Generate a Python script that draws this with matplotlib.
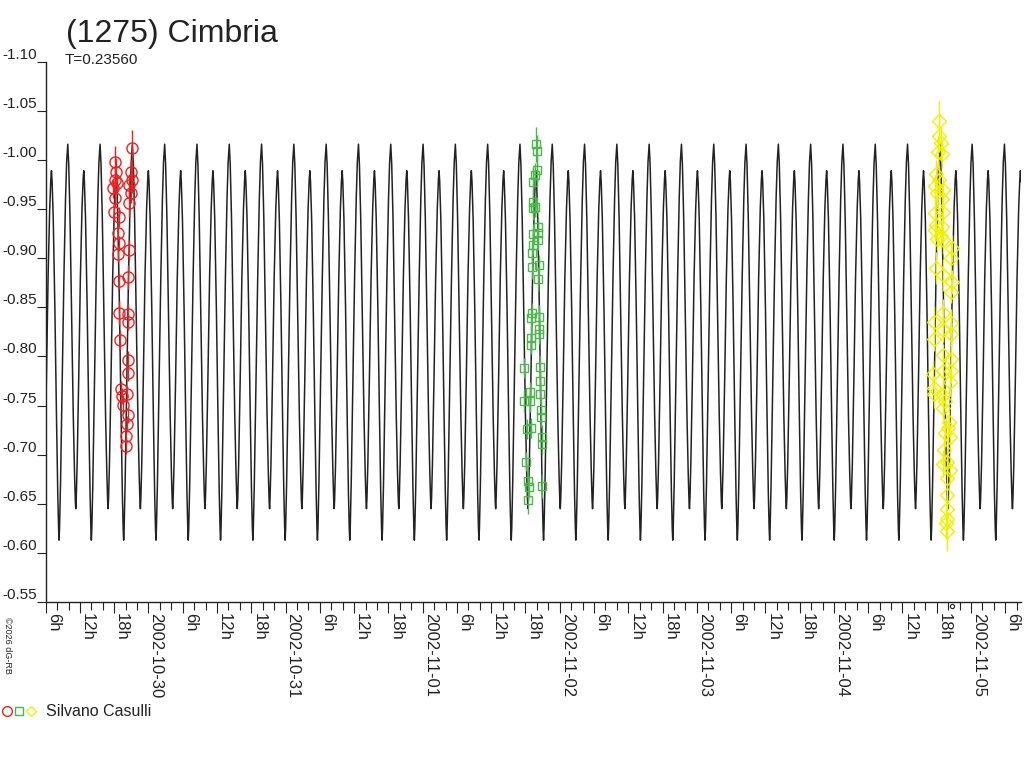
import numpy as np
import pandas as pd
import matplotlib
matplotlib.use("Agg")
import matplotlib.pyplot as plt
import matplotlib.dates as mdates
from matplotlib.ticker import FixedLocator, FuncFormatter
from matplotlib.lines import Line2D
from matplotlib.legend_handler import HandlerTuple

plt.rcParams['font.family'] = ['Liberation Sans', 'DejaVu Sans']

OBJECT_NAME = "(1275) Cimbria"
PERIOD = 0.23560          # days
OBSERVER = "Silvano Casulli"
CREDIT = "\u00a92026 dG-RB"

X_START = "2002-10-29 06:00"
X_END = "2002-11-05 08:44"
Y_TICKS = [-1.10, -1.05, -1.00, -0.95, -0.90, -0.85, -0.80, -0.75,
           -0.70, -0.65, -0.60, -0.55]

# model lightcurve over one rotation (phase 0 = brighter maximum)
MODEL_EPOCH = "2002-10-30 02:50"
MODEL_PHASE = [0.000, 0.030, 0.070, 0.120, 0.170, 0.210, 0.235, 0.248,
               0.262, 0.290, 0.340, 0.390, 0.440, 0.475, 0.495, 0.515,
               0.550, 0.600, 0.650, 0.690, 0.715, 0.730, 0.745, 0.775,
               0.830, 0.880, 0.930, 0.965]
MODEL_MAG = [-1.016, -0.995, -0.940, -0.840, -0.740, -0.680, -0.652, -0.645,
             -0.655, -0.690, -0.780, -0.880, -0.950, -0.980, -0.989, -0.978,
             -0.940, -0.850, -0.740, -0.660, -0.625, -0.613, -0.625, -0.670,
             -0.780, -0.880, -0.960, -0.998]

# session 1 (red circles)
S1_DATE = "2002-10-29"
S1_HOURS = [17.83, 18.01, 18.13, 18.13, 18.13, 18.25, 18.43, 18.71, 18.71,
            18.83, 18.83, 18.83, 18.83, 19.01, 19.13, 19.30, 19.48, 20.06,
            20.06, 20.18, 20.28, 20.35, 20.35, 20.35, 20.46, 20.46, 20.46,
            20.63, 20.63, 20.63, 20.88, 20.93, 21.05, 21.05]
S1_MAG = [-0.971, -0.947, -0.998, -0.980, -0.961, -0.988, -0.976, -0.926,
          -0.904, -0.942, -0.915, -0.877, -0.844, -0.817, -0.767, -0.760,
          -0.751, -0.719, -0.709, -0.762, -0.731, -0.796, -0.783, -0.740,
          -0.881, -0.843, -0.835, -0.974, -0.956, -0.908, -0.966, -0.988,
          -1.012, -0.980]
S1_ERR = [0.010, 0.008, 0.016, 0.012, 0.010, 0.014, 0.010, 0.008, 0.008,
          0.010, 0.008, 0.008, 0.012, 0.010, 0.008, 0.008, 0.010, 0.008,
          0.008, 0.008, 0.008, 0.010, 0.008, 0.008, 0.012, 0.010, 0.008,
          0.012, 0.014, 0.010, 0.010, 0.012, 0.018, 0.014]

# session 2 (green squares)
S2_DATE = "2002-11-01"
S2_HOURS = [17.73, 17.78, 18.03, 18.20, 18.37, 18.37, 18.60, 18.78, 18.78,
            18.90, 18.90, 18.90, 18.95, 19.08, 19.08, 19.08, 19.25, 19.25,
            19.25, 19.35, 19.35, 19.65, 19.65, 19.83, 19.95, 20.06, 20.13,
            20.13, 20.23, 20.23, 20.35, 20.35, 20.35, 20.41, 20.53, 20.53,
            20.53, 20.70, 20.70, 20.83, 20.83, 20.93]
S2_MAG = [-0.788, -0.755, -0.693, -0.726, -0.673, -0.654, -0.667, -0.764,
          -0.755, -0.839, -0.819, -0.727, -0.812, -0.905, -0.891, -0.844,
          -0.951, -0.925, -0.913, -0.978, -0.957, -0.985, -0.952, -1.016,
          -1.009, -0.990, -0.932, -0.926, -0.918, -0.879, -0.893, -0.840,
          -0.828, -0.823, -0.789, -0.775, -0.762, -0.745, -0.738, -0.718,
          -0.711, -0.668]
S2_ERR = [0.010, 0.012, 0.010, 0.010, 0.012, 0.014, 0.010, 0.010, 0.012,
          0.010, 0.012, 0.010, 0.010, 0.010, 0.012, 0.010, 0.012, 0.010,
          0.010, 0.014, 0.012, 0.012, 0.010, 0.018, 0.016, 0.014, 0.010,
          0.012, 0.010, 0.012, 0.010, 0.012, 0.010, 0.010, 0.012, 0.010,
          0.010, 0.012, 0.010, 0.012, 0.010, 0.012]

# session 3 (yellow diamonds)
S3_DATE = "2002-11-04"
S3_HOURS = [17.38, 17.50, 17.55, 17.55, 17.55, 17.67, 17.67, 17.67, 17.85,
            17.85, 17.85, 17.97, 18.07, 18.14, 18.43, 18.43, 18.43, 18.67,
            18.67, 18.85, 18.85, 18.85, 19.02, 19.02, 19.02, 19.02, 19.02,
            19.02, 19.13, 19.13, 19.13, 19.13, 19.13, 19.30, 19.42, 19.42,
            19.60, 19.72, 19.72, 19.72, 19.72, 19.83, 19.83, 20.00, 20.18,
            20.30, 20.30, 20.30, 20.42, 20.42, 20.42, 20.42, 20.42, 20.42,
            20.60, 20.60]
S3_MAG = [-0.782, -0.768, -0.835, -0.818, -0.762, -0.973, -0.946, -0.929,
          -0.986, -0.934, -0.890, -0.920, -0.966, -1.008, -1.040, -1.024,
          -0.980, -1.017, -0.923, -1.006, -0.960, -0.932, -0.969, -0.883,
          -0.844, -0.801, -0.785, -0.691, -0.947, -0.918, -0.827, -0.761,
          -0.747, -0.705, -0.755, -0.722, -0.630, -0.693, -0.659, -0.645,
          -0.622, -0.676, -0.635, -0.727, -0.733, -0.774, -0.718, -0.684,
          -0.900, -0.866, -0.834, -0.823, -0.797, -0.785, -0.910, -0.876]
S3_ERR = [0.014, 0.012, 0.016, 0.012, 0.014, 0.012, 0.014, 0.012, 0.014,
          0.012, 0.016, 0.012, 0.014, 0.016, 0.020, 0.016, 0.014, 0.016,
          0.012, 0.014, 0.012, 0.014, 0.012, 0.016, 0.014, 0.012, 0.016,
          0.014, 0.012, 0.014, 0.012, 0.014, 0.012, 0.016, 0.012, 0.014,
          0.016, 0.014, 0.012, 0.014, 0.020, 0.012, 0.016, 0.014, 0.012,
          0.014, 0.012, 0.014, 0.016, 0.012, 0.014, 0.012, 0.016, 0.012,
          0.014, 0.012]

SESSION_MARK = "2002-11-04 20:36"

INK = "#222222"
RED = "#ee2020"
GREEN = "#4cb84c"
YELLOW = "#f0f000"


def to_num(date, hours):
    t = pd.Timestamp(date) + pd.to_timedelta(np.asarray(hours), unit="h")
    return mdates.date2num(t.to_pydatetime())


def tick_label(x, pos=None):
    d = mdates.num2date(x)
    if d.hour == 0:
        return d.strftime("%Y-%m-%d")
    return f"{d.hour}h"


fig = plt.figure(figsize=(10.24, 7.68), dpi=100)
ax = fig.add_axes([0.0446, 0.2161, 0.9524, 0.7036])

# model curve, repeated every rotation
cycles = np.arange(-5, 32)
ph = (cycles[:, None] + np.array(MODEL_PHASE)[None, :]).ravel()
model_t = pd.Timestamp(MODEL_EPOCH) + pd.to_timedelta(ph * PERIOD, unit="D")
model_x = mdates.date2num(model_t.to_pydatetime())
model_y = np.tile(MODEL_MAG, len(cycles))
ax.plot(model_x, model_y, color=INK, lw=1.1, zorder=1)

sessions = [
    (S1_DATE, S1_HOURS, S1_MAG, S1_ERR, RED, "o", 8.0),
    (S2_DATE, S2_HOURS, S2_MAG, S2_ERR, GREEN, "s", 5.8),
    (S3_DATE, S3_HOURS, S3_MAG, S3_ERR, YELLOW, "D", 6.8),
]
for date, hrs, mag, err, col, mk, ms in sessions:
    ax.errorbar(to_num(date, hrs), mag, yerr=err, fmt=mk, ms=ms,
                mfc="none", mec=col, mew=1.0, ecolor=col, elinewidth=1.0,
                capsize=0, zorder=3)

mark_x = mdates.date2num(pd.Timestamp(SESSION_MARK).to_pydatetime())
ax.plot([mark_x], [-0.5455], "o", ms=3, mfc="none", mec=INK, mew=0.8,
        clip_on=False)

ax.set_xlim(mdates.date2num(pd.Timestamp(X_START).to_pydatetime()),
            mdates.date2num(pd.Timestamp(X_END).to_pydatetime()))
ax.set_ylim(-0.55, -1.10)

for s in ["top", "right"]:
    ax.spines[s].set_visible(False)
for s in ["left", "bottom"]:
    ax.spines[s].set_color(INK)
    ax.spines[s].set_linewidth(1.0)

ax.xaxis.set_major_locator(mdates.HourLocator(byhour=[0, 6, 12, 18]))
ax.xaxis.set_minor_locator(mdates.HourLocator(byhour=range(0, 24, 2)))
ax.xaxis.set_major_formatter(FuncFormatter(tick_label))
ax.tick_params(axis="x", which="major", length=8, width=0.8, color=INK,
               labelsize=12, labelcolor=INK, pad=0, labelrotation=-90)
ax.tick_params(axis="x", which="minor", length=6, width=0.8, color=INK)

ax.yaxis.set_major_locator(FixedLocator(Y_TICKS))
ax.yaxis.set_major_formatter(FuncFormatter(lambda v, p: f"{v:.2f}"))
ax.tick_params(axis="y", length=6.5, width=0.8, color=INK, labelsize=11,
               labelcolor=INK, pad=0)

fig.canvas.draw()
plt.setp(ax.get_xticklabels(), ha="left", va="top", rotation=-90)
plt.setp(ax.get_yticklabels(), va="bottom")

fig.text(0.0645, 0.9457, OBJECT_NAME, fontsize=23, color=INK, va="baseline")
fig.text(0.0635, 0.9170, f"T={PERIOD:.5f}", fontsize=11, color=INK,
         va="baseline")
fig.text(0.003, 0.159, CREDIT, fontsize=6.5, color=INK, rotation=-90,
         ha="left", va="center")

handles = (Line2D([], [], ls="none", marker="o", ms=7, mfc="none", mec=RED),
           Line2D([], [], ls="none", marker="s", ms=5.5, mfc="none", mec=GREEN),
           Line2D([], [], ls="none", marker="D", ms=5.5, mfc="none", mec=YELLOW))
fig.legend([handles], [OBSERVER], handler_map={tuple: HandlerTuple(ndivide=None, pad=0.1)},
           loc="center left", bbox_to_anchor=(0.0, 0.073), frameon=False,
           fontsize=11.5, labelcolor=INK, handlelength=2.2, handletextpad=0.6,
           borderpad=0.1, borderaxespad=0.0)

fig.savefig("out.png", dpi=100)
